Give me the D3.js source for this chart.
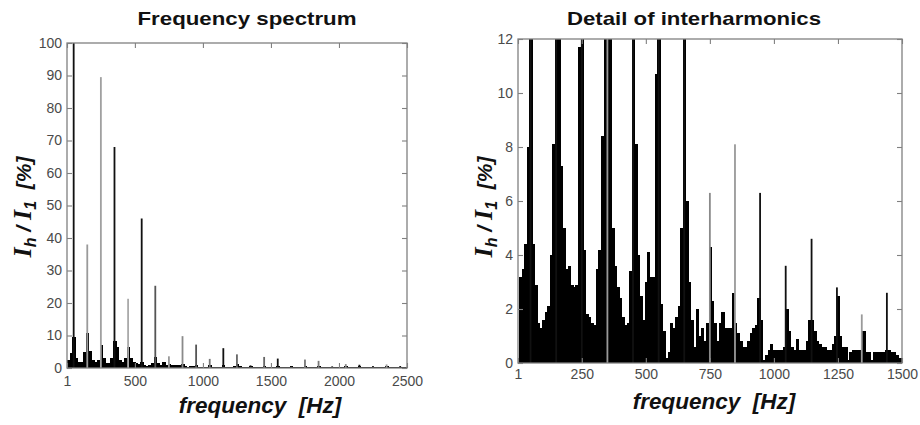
<!DOCTYPE html>
<html><head><meta charset="utf-8">
<script src="https://cdn.jsdelivr.net/npm/d3@7"></script>
<style>body{margin:0;background:#fff} svg{display:block}</style>
</head><body>
<svg id="c" width="920" height="425"></svg>
<script>
// ================= DATA =================
// Left panel: full frequency spectrum (Ih/I1 in %)
const spectrumBinStep = 20;            // Hz per bin, bins centred at 10, 30, 50 ...
const spectrumBinValues = [
  2.5,4.5,9.5,3.0,1.8,2.0,5.0,10.8,5.2,2.5,
  1.8,2.5,7.2,3.0,1.5,1.5,3.0,8.3,6.5,2.5,
  2.0,3.0,6.5,3.0,2.0,1.6,1.2,2.0,1.0,0.6,
  0.9,1.5,3.5,1.5,0.8,2.0,0.8,1.2,1.0,0.9,
  1.0,0.8,1.2,0.6,0.4,0.5,0.6,1.0,0.3,0.4,
  0.4,0.4,0.8,0.4,0.3,0.4,0.4,0.8,0.4,0.3,
  0.4,0.5,1.2,0.5,0.3,0.3,0.4,0.6,0.3,0.3,
  0.3,0.4,0.7,0.3,0.3,0.3,0.3,0.6,0.3,0.3,
  0.3,0.3,0.5,0.3,0.3,0.3,0.3,0.5,0.3,0.3,
  0.3,0.3,0.5,0.3,0.2,0.2,0.3,0.4,0.2,0.2,
  0.2,0.3,0.5,0.2,0.2,0.2,0.3,0.6,0.2,0.2,
  0.2,0.2,0.4,0.2,0.2,0.2,0.2,0.5,0.2,0.2,
  0.2,0.2,0.4,0.2,0.2
];
const spectrumHarmonicFreqs  = [50,150,250,350,450,550,650,750,850,950,1050,1150,1250,1350,1450,1550,1650,1750,1850,1950,2050,2150,2250,2350,2450];
const spectrumHarmonicValues = [100,38,89.5,68,21.3,46,25.3,3.6,9.8,7.2,2.8,6.1,4.2,0.8,3.4,2.9,0.6,2.6,2.2,0.5,1.2,1.0,0.6,1.1,0.6];
const spectrumXTicks = [1,500,1000,1500,2000,2500];
const spectrumYTicks = [0,10,20,30,40,50,60,70,80,90,100];

// Right panel: detail of interharmonics (Ih/I1 in %)
const detailBinStep = 10;              // Hz per bin, bins centred at 10, 20, 30 ...
const detailBinValues = [
  3.2,3.5,4.4,8.0,14,4.4,2.9,1.5,1.3,1.6,
  1.9,2.1,4.0,8.1,14,14,7.3,5.0,3.5,3.6,
  2.9,2.8,2.9,11.7,14,4.2,1.8,1.7,1.5,1.4,
  3.5,4.2,8.4,14,14,14,5.0,3.6,2.8,2.4,
  1.7,1.4,1.5,3.4,14,8.1,4.0,2.5,1.6,3.0,
  4.1,3.2,3.2,10.7,14,2.2,1.2,0.2,0.4,1.5,
  1.3,1.7,2.1,5.0,14,6.0,3.0,1.6,0.6,2.0,
  1.0,1.3,0.8,1.5,4.3,2.3,1.5,0.8,1.5,1.9,
  1.3,1.3,1.3,2.6,1.5,1.1,0.8,0.6,0.6,0.8,
  1.1,1.3,1.4,2.4,1.6,0.1,0.3,0.5,0.7,0.5,
  0.5,0.5,0.5,0.6,2.0,1.2,0.6,0.5,0.9,0.5,
  0.5,0.5,0.8,1.6,1.6,1.2,0.8,0.7,0.6,0.6,
  0.5,0.5,0.7,1.0,2.5,1.0,0.6,0.6,0.1,0.4,
  0.5,0.5,0.5,0.5,1.2,0.4,0.4,0.1,0.4,0.4,
  0.4,0.4,0.4,0.5,0.5,0.4,0.4,0.3,0.2,0.2
];
const detailHarmonicFreqs  = [50,150,250,350,450,550,650,750,848,946,1046,1147,1246,1343,1441];
const detailHarmonicValues = [100,38,89.5,68,21.3,46,25.3,6.3,8.1,6.3,3.6,4.6,2.8,1.8,2.6];
const detailXTicks = [1,250,500,750,1000,1250,1500];
const detailYTicks = [0,2,4,6,8,10,12];

// ================= STYLE =================
const grayLeft  = {150:"#9a9a9a",250:"#a0a0a0",450:"#aaaaaa",650:"#555",750:"#999",850:"#8a8a8a",950:"#555",1050:"#777",1250:"#666",1450:"#666",1750:"#777",1850:"#777",2050:"#888",2350:"#999"};
const grayRight = {350:"#999",750:"#8a8a8a",848:"#999",1343:"#9a9a9a"};

const svg = d3.select("#c");

function panel(opt){
  const x = d3.scaleLinear().domain(opt.xDomain).range([opt.x0, opt.x1]);
  const y = d3.scaleLinear().domain(opt.yDomain).range([opt.y1, opt.y0]);
  const g = svg.append("g");
  const clipId = "clip" + opt.id;
  svg.append("clipPath").attr("id", clipId).append("rect")
    .attr("x", opt.x0).attr("y", opt.y0).attr("width", opt.x1-opt.x0).attr("height", opt.y1-opt.y0);
  const plot = g.append("g").attr("clip-path", `url(#${clipId})`);
  const bw = x(opt.step) - x(0);
  const cap = v => Math.min(v, opt.yDomain[1]*1.2);
  plot.selectAll("rect.bin").data(opt.bins).join("rect").attr("class","bin")
    .attr("x", (d,i) => x(opt.first + i*opt.step) - bw/2)
    .attr("width", bw + 0.7)
    .attr("y", d => y(cap(d)))
    .attr("height", d => y(0) - y(cap(d)))
    .attr("fill", "#000").attr("shape-rendering","crispEdges");
  plot.selectAll("rect.sp").data(opt.hf).join("rect").attr("class","sp")
    .attr("x", d => x(d) - opt.spw/2)
    .attr("width", opt.spw)
    .attr("y", (d,i) => y(cap(opt.hv[i])))
    .attr("height", (d,i) => y(0) - y(cap(opt.hv[i])))
    .attr("fill", d => opt.gray[d] || "#111");

  const axColor = "#808080";
  const fmt = d3.format("d");
  const ax = (axis, tr) => {
    const a = g.append("g").attr("transform", tr).call(axis);
    a.select(".domain").remove();
    a.selectAll("line").attr("stroke", axColor).attr("stroke-width", 1.1);
    a.selectAll("text").attr("fill", "#4a4a4a").attr("font-family", "Liberation Sans, Arial, sans-serif").attr("font-size", 14);
    return a;
  };
  ax(d3.axisBottom(x).tickValues(opt.xt).tickFormat(fmt).tickSizeInner(-5).tickSizeOuter(0).tickPadding(opt.xpad), `translate(0,${opt.y1})`);
  ax(d3.axisTop(x).tickValues(opt.xt).tickFormat("").tickSizeInner(-5).tickSizeOuter(0), `translate(0,${opt.y0})`);
  ax(d3.axisLeft(y).tickValues(opt.yt).tickFormat(fmt).tickSizeInner(-5).tickSizeOuter(0).tickPadding(5), `translate(${opt.x0},0)`);
  ax(d3.axisRight(y).tickValues(opt.yt).tickFormat("").tickSizeInner(-5).tickSizeOuter(0), `translate(${opt.x1},0)`);
  g.append("rect").attr("x", opt.x0).attr("y", opt.y0).attr("width", opt.x1-opt.x0).attr("height", opt.y1-opt.y0)
    .attr("fill","none").attr("stroke", axColor).attr("stroke-width", 1.3);

  // title
  g.append("text").attr("x", opt.tx).attr("y", 25).attr("text-anchor","middle")
    .attr("font-family","Liberation Sans, Arial, sans-serif").attr("font-weight","bold").attr("font-size", 19)
    .attr("textLength", opt.tw).attr("lengthAdjust","spacingAndGlyphs")
    .attr("fill","#111").text(opt.title);
  // x label
  g.append("text").attr("x", opt.xlx).attr("y", opt.xly).attr("text-anchor","middle")
    .attr("font-family","Liberation Sans, Arial, sans-serif").attr("font-weight","bold").attr("font-style","italic")
    .attr("font-size", 22.5).attr("fill","#111").text("frequency\u00a0 [Hz]");
  // y label
  const t = g.append("text").attr("transform", `translate(${opt.ylx},${opt.yly}) rotate(-90)`).attr("text-anchor","middle")
    .attr("font-family","Liberation Sans, Arial, sans-serif").attr("font-weight","bold").attr("font-style","italic")
    .attr("font-size", 21).attr("fill","#111");
  t.append("tspan").attr("font-family","Liberation Serif, Times New Roman, serif").attr("font-size",26).text("I");
  t.append("tspan").attr("font-size",16).attr("dy",5).text("h");
  t.append("tspan").attr("dy",-5).text(" / ");
  t.append("tspan").attr("font-family","Liberation Serif, Times New Roman, serif").attr("font-size",26).text("I");
  t.append("tspan").attr("font-size",16).attr("dy",5).text("1");
  t.append("tspan").attr("dy",-5).text("\u00a0\u00a0[%]");
}

panel({id:"L", xDomain:[1,2500], yDomain:[0,100], x0:67, x1:407, y0:43, y1:368,
  bins: spectrumBinValues, first: spectrumBinStep/2, step: spectrumBinStep,
  hf: spectrumHarmonicFreqs, hv: spectrumHarmonicValues, spw: 1.8, gray: grayLeft,
  xt: spectrumXTicks, yt: spectrumYTicks, xpad: 8,
  title: "Frequency spectrum", tw: 219, tx: 247, xlx: 260, xly: 413, ylx: 31, yly: 207});

panel({id:"R", xDomain:[1,1500], yDomain:[0,12], x0:518, x1:902, y0:39, y1:363,
  bins: detailBinValues, first: detailBinStep, step: detailBinStep,
  hf: detailHarmonicFreqs, hv: detailHarmonicValues, spw: 1.8, gray: grayRight,
  xt: detailXTicks, yt: detailYTicks, xpad: 6,
  title: "Detail of interharmonics", tw: 254, tx: 694, xlx: 714, xly: 409, ylx: 492, yly: 207});
</script>
</body></html>
